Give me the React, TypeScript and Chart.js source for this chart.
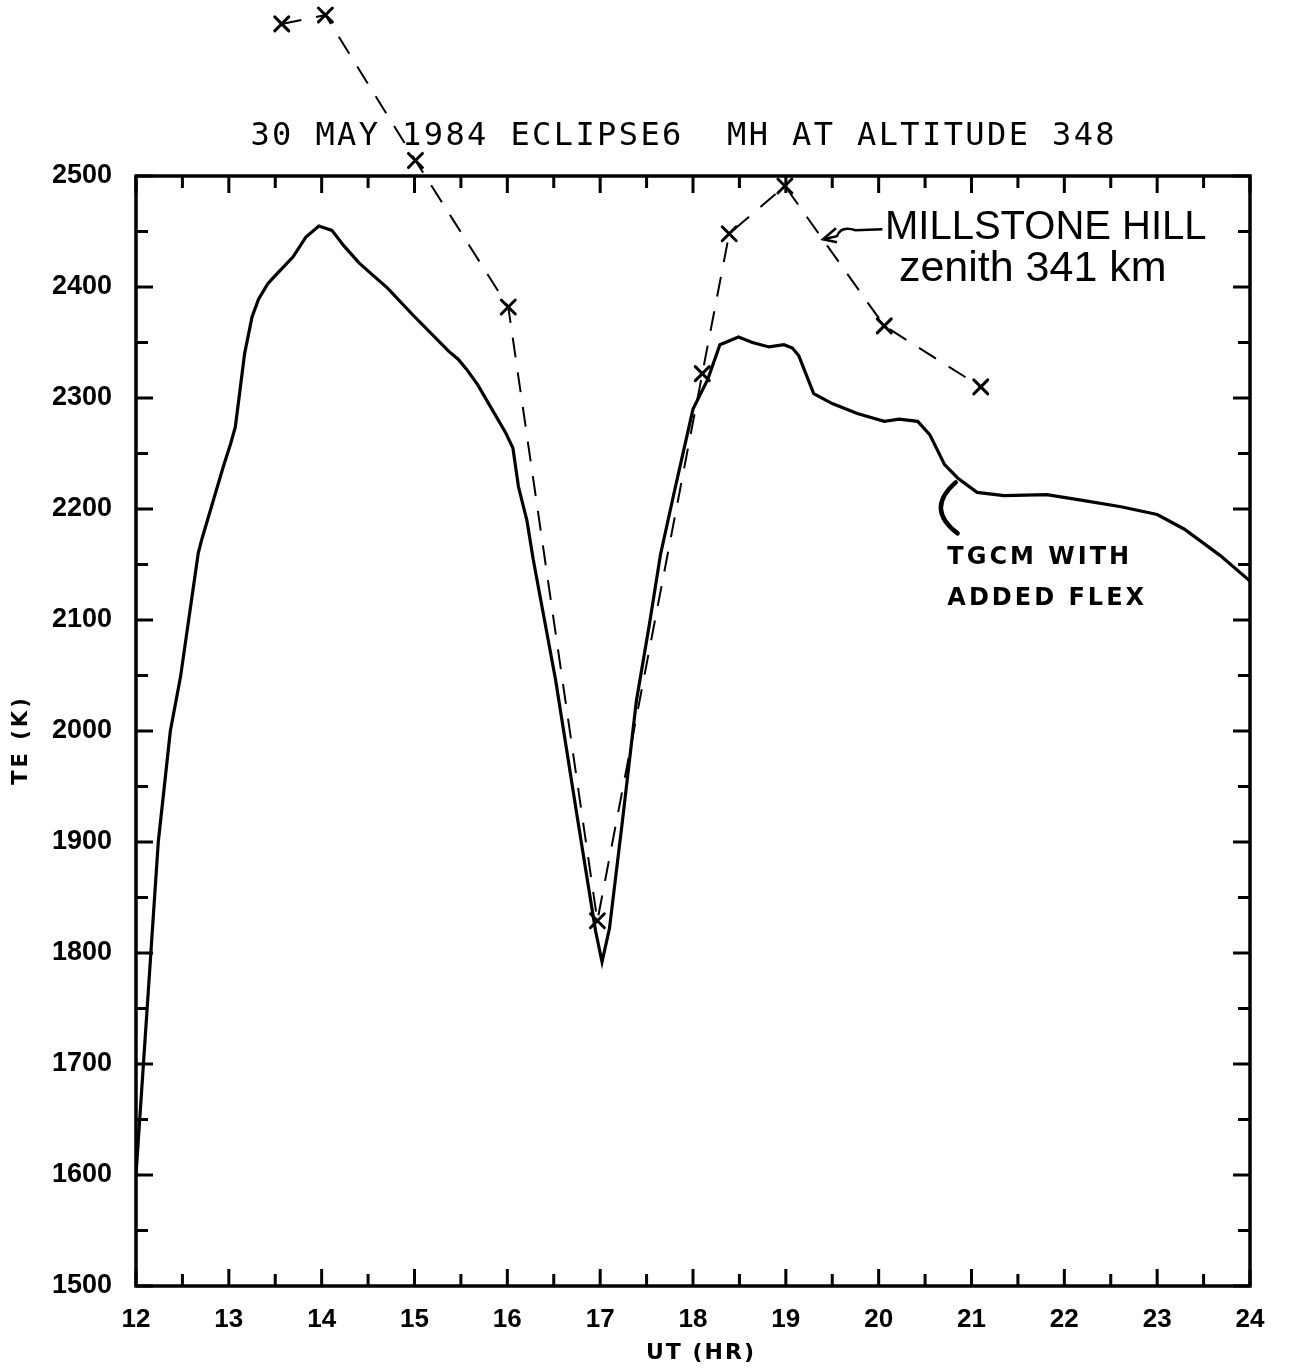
import React, { useEffect, useRef } from "react";
import { Chart, registerables } from "chart.js";

Chart.register(...registerables);

// ---- data ----
const TGCM_UT = [12.0, 12.08, 12.16, 12.24, 12.37, 12.48, 12.67, 12.71, 12.94, 13.02, 13.07, 13.17, 13.25, 13.32, 13.42, 13.52, 13.69, 13.83, 13.97, 14.11, 14.24, 14.40, 14.52, 14.71, 14.98, 15.37, 15.47, 15.56, 15.68, 15.98, 16.06, 16.12, 16.21, 16.28, 16.52, 16.76, 16.95, 17.02, 17.1, 17.24, 17.39, 17.53, 17.65, 17.8, 18.0, 18.16, 18.29, 18.49, 18.64, 18.82, 18.98, 19.07, 19.14, 19.3, 19.5, 19.77, 20.06, 20.22, 20.42, 20.55, 20.71, 20.85, 21.06, 21.35, 21.81, 22.18, 22.61, 23.0, 23.29, 23.68, 24.0];
const TGCM_TE = [1600, 1700, 1800, 1900, 2000, 2049, 2160, 2173, 2238, 2259, 2274, 2340, 2373, 2389, 2403, 2412, 2427, 2445, 2455, 2451, 2437, 2422, 2413, 2399, 2375, 2342, 2335, 2326, 2312, 2269, 2255, 2220, 2190, 2154, 2046, 1919, 1820, 1792, 1822, 1919, 2027, 2096, 2159, 2216, 2290, 2317, 2348, 2355, 2350, 2346, 2348, 2345, 2338, 2304, 2295, 2286, 2279, 2281, 2279, 2267, 2240, 2228, 2215, 2212, 2213, 2208, 2202, 2195, 2182, 2158, 2135];

const MH_UT = [13.57, 14.04, 15.01, 16.01, 16.97, 18.1, 18.39, 18.99, 20.06, 21.1];
const MH_TE = [2637, 2645, 2514, 2382, 1829, 2322, 2448, 2491, 2365, 2310];

const X_MIN = 12;
const X_MAX = 24;
const Y_MIN = 1500;
const Y_MAX = 2500;
const X_MINOR_STEP = 0.5;
const Y_MINOR_STEP = 50;

const TITLE = "30 MAY 1984 ECLIPSE6  MH AT ALTITUDE 348";
const X_TITLE = "UT (HR)";
const Y_TITLE = "TE (K)";
const MH_LABEL = ["MILLSTONE HILL", "zenith 341 km"];
const TGCM_LABEL = ["TGCM WITH", "ADDED FLEX"];

// annotation anchors in data units
const TITLE_AT = [17.9, 2535];
const MH_LABEL_AT = [[21.8, 2453], [21.66, 2416]];
const MH_ARROW_FROM = [20.04, 2452];
const MH_ARROW_TIP = [19.4, 2443];
const TGCM_LABEL_AT = [[20.74, 2156], [20.74, 2119]];
const TGCM_BRACKET = [[20.83, 2224], [20.5, 2200], [20.85, 2178]];

const framePlugin = {
  id: "frame",
  beforeDraw(chart: any) {
    const ctx = chart.ctx;
    ctx.save();
    ctx.fillStyle = "#fff";
    ctx.fillRect(0, 0, chart.width, chart.height);
    ctx.restore();
  },
  afterDraw(chart: any) {
    const ctx = chart.ctx;
    const { left, right, top, bottom } = chart.chartArea;
    const xs = chart.scales.x;
    const ys = chart.scales.y;
    ctx.save();
    ctx.strokeStyle = "#000";
    ctx.fillStyle = "#000";
    ctx.lineWidth = 3.5;
    ctx.strokeRect(left, top, right - left, bottom - top);
    ctx.lineWidth = 3;
    // x ticks (inward, top and bottom)
    for (let v = X_MIN; v <= X_MAX + 1e-9; v += X_MINOR_STEP) {
      const px = xs.getPixelForValue(v);
      const major = Math.abs(v - Math.round(v)) < 1e-6;
      const len = major ? 17 : 12;
      ctx.beginPath();
      ctx.moveTo(px, bottom);
      ctx.lineTo(px, bottom - len);
      ctx.moveTo(px, top);
      ctx.lineTo(px, top + len);
      ctx.stroke();
    }
    // y ticks (inward, left and right)
    for (let v = Y_MIN; v <= Y_MAX + 1e-9; v += Y_MINOR_STEP) {
      const py = ys.getPixelForValue(v);
      const major = v % 100 === 0;
      const len = major ? 17 : 12;
      ctx.beginPath();
      ctx.moveTo(left, py);
      ctx.lineTo(left + len, py);
      ctx.moveTo(right, py);
      ctx.lineTo(right - len, py);
      ctx.stroke();
    }

    // X markers of the Millstone Hill series (also those above the axes)
    const meta = chart.getDatasetMeta(1);
    ctx.lineWidth = 3;
    ctx.lineCap = "round";
    for (const el of meta.data) {
      const h = 7;
      ctx.beginPath();
      ctx.moveTo(el.x - h, el.y - h);
      ctx.lineTo(el.x + h, el.y + h);
      ctx.moveTo(el.x + h, el.y - h);
      ctx.lineTo(el.x - h, el.y + h);
      ctx.stroke();
    }
    ctx.lineCap = "butt";

    const P = (a: number[]) => [xs.getPixelForValue(a[0]), ys.getPixelForValue(a[1])];

    // title
    ctx.textBaseline = "middle";
    ctx.textAlign = "center";
    ctx.font = "32px 'DejaVu Sans Mono'";
    (ctx as any).letterSpacing = "2.4px";
    const t = P(TITLE_AT);
    ctx.fillText(TITLE, t[0], t[1]);

    // axis titles
    ctx.font = "bold 22px 'DejaVu Sans'";
    (ctx as any).letterSpacing = "2px";
    ctx.fillText(X_TITLE, (left + right) / 2 + 8, bottom + 67);
    ctx.save();
    ctx.translate(left - 114, (top + bottom) / 2 + 9);
    ctx.rotate(-Math.PI / 2);
    ctx.font = "bold 21px 'DejaVu Sans'";
    (ctx as any).letterSpacing = "3px";
    ctx.fillText(Y_TITLE, 0, 0);
    ctx.restore();

    // Millstone Hill label
    (ctx as any).letterSpacing = "0px";
    ctx.font = "40px 'Liberation Sans'";
    const m1 = P(MH_LABEL_AT[0]);
    ctx.fillText(MH_LABEL[0], m1[0], m1[1]);
    ctx.font = "43px 'Liberation Sans'";
    const m2 = P(MH_LABEL_AT[1]);
    ctx.fillText(MH_LABEL[1], m2[0], m2[1]);

    // arrow
    const a0 = P(MH_ARROW_FROM);
    const a1 = P(MH_ARROW_TIP);
    ctx.lineWidth = 2.5;
    ctx.beginPath();
    ctx.moveTo(a0[0], a0[1]);
    ctx.lineTo(a0[0] - (a0[0] - a1[0]) * 0.45, a0[1] + 1);
    ctx.quadraticCurveTo(a1[0] + (a0[0] - a1[0]) * 0.3, a1[1] - 14, a1[0] + 14, a1[1] - 3);
    ctx.lineTo(a1[0], a1[1]);
    ctx.stroke();
    ctx.beginPath();
    ctx.moveTo(a1[0] + 13, a1[1] - 11);
    ctx.lineTo(a1[0], a1[1]);
    ctx.lineTo(a1[0] + 14, a1[1] + 3);
    ctx.stroke();

    // TGCM label
    ctx.textAlign = "left";
    ctx.font = "bold 24px 'DejaVu Sans'";
    (ctx as any).letterSpacing = "3px";
    const g1 = P(TGCM_LABEL_AT[0]);
    ctx.fillText(TGCM_LABEL[0], g1[0], g1[1]);
    const g2 = P(TGCM_LABEL_AT[1]);
    ctx.fillText(TGCM_LABEL[1], g2[0], g2[1]);
    (ctx as any).letterSpacing = "0px";

    // bracket
    const b0 = P(TGCM_BRACKET[0]);
    const b1 = P(TGCM_BRACKET[1]);
    const b2 = P(TGCM_BRACKET[2]);
    ctx.lineWidth = 4.5;
    ctx.lineCap = "round";
    ctx.beginPath();
    ctx.moveTo(b0[0], b0[1]);
    ctx.quadraticCurveTo(b1[0], b1[1], b2[0], b2[1]);
    ctx.stroke();
    ctx.restore();
  },
};

export default function App() {
  const ref = useRef<HTMLCanvasElement>(null);
  useEffect(() => {
    document.body.style.margin = "0";
    Chart.defaults.color = "#000";
    const chart = new Chart(ref.current as HTMLCanvasElement, {
      type: "scatter",
      data: {
        datasets: [
          {
            label: "TGCM with added flex",
            data: TGCM_UT.map((u, i) => ({ x: u, y: TGCM_TE[i] })),
            showLine: true,
            borderColor: "#000",
            borderWidth: 3.2,
            pointRadius: 0,
            tension: 0,
          },
          {
            label: "Millstone Hill zenith 341 km",
            data: MH_UT.map((u, i) => ({ x: u, y: MH_TE[i] })),
            showLine: true,
            borderColor: "#000",
            borderWidth: 2,
            borderDash: [20, 15],
            pointRadius: 0,
            tension: 0,
            clip: false,
          } as any,
        ],
      },
      options: {
        responsive: false,
        animation: false,
        devicePixelRatio: 1,
        layout: { padding: { top: 176, right: 39, left: 0, bottom: 0 } },
        plugins: {
          legend: { display: false },
          title: { display: false },
          tooltip: { enabled: false },
        },
        scales: {
          x: {
            type: "linear",
            min: X_MIN,
            max: X_MAX,
            grid: { display: false, drawTicks: false },
            border: { display: false },
            ticks: {
              stepSize: 1,
              padding: 18,
              color: "#000",
              font: { family: "'Liberation Sans'", size: 26, weight: "bold" },
              callback: (v: any) => String(v),
            },
            afterFit: (s: any) => {
              s.height = 83;
            },
          },
          y: {
            type: "linear",
            min: Y_MIN,
            max: Y_MAX,
            grid: { display: false, drawTicks: false },
            border: { display: false },
            ticks: {
              stepSize: 100,
              padding: 24,
              color: "#000",
              font: { family: "'Liberation Sans'", size: 27, weight: "bold" },
              callback: (v: any) => String(v),
            },
            afterFit: (s: any) => {
              s.width = 136;
            },
          },
        },
      } as any,
      plugins: [framePlugin],
    });
    return () => chart.destroy();
  }, []);
  return (
    <div style={{ width: 1289, height: 1369, background: "#fff" }}>
      <canvas ref={ref} width={1289} height={1369} style={{ display: "block" }} />
    </div>
  );
}
